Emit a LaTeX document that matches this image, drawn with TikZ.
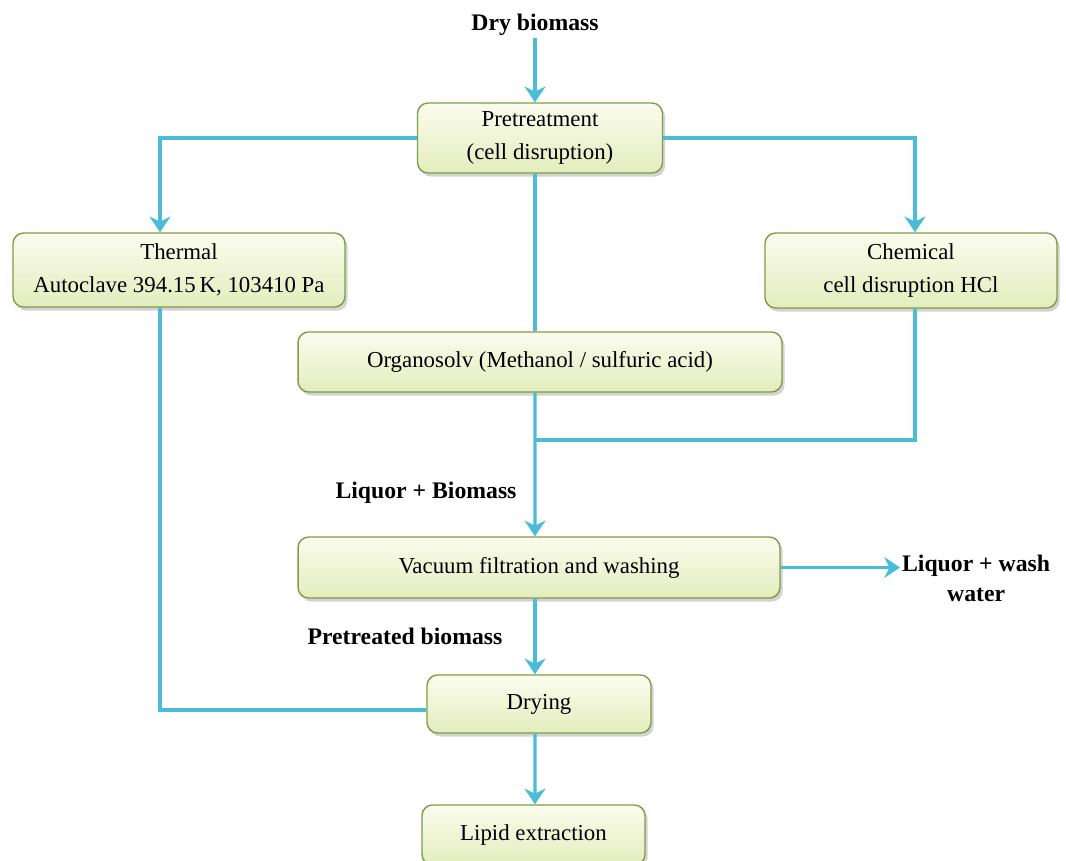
\documentclass[tikz,border=0pt]{standalone}
\usepackage{fontspec}
\setmainfont{Liberation Serif}
\usetikzlibrary{arrows.meta,shadows}
\definecolor{flow}{HTML}{4BBCD8}
\definecolor{boxborder}{HTML}{7C9F45}
\definecolor{boxtop}{HTML}{FBFCEE}
\definecolor{boxbot}{HTML}{E3EDBD}
\begin{document}
\begin{tikzpicture}[x=0.02cm,y=-0.02cm,
  procbox/.style={draw=boxborder, line width=0.8pt, rounded corners=6pt,
    top color=boxtop, bottom color=boxbot,
    drop shadow={opacity=0.35, shadow xshift=1.5pt, shadow yshift=-2pt},
    align=center, inner sep=0pt, font=\fontsize{13}{18.5}\selectfont},
  lbl/.style={font=\bfseries\fontsize{13.5}{17}\selectfont, align=center, inner sep=1pt},
  flowline/.style={draw=flow, line width=1.8pt},
  flowarrow/.style={flowline, -{Stealth[length=9pt,width=12pt,inset=3pt]}}]
\useasboundingbox (0,0) rectangle (1066,861);

\node[lbl] (drybio) at (535,25) {Dry biomass};
\node[procbox, minimum width=4.9cm, minimum height=1.4cm] (pre) at (540,138) {Pretreatment\\(cell disruption)};
\node[procbox, minimum width=6.64cm, minimum height=1.48cm] (thermal) at (179,270) {Thermal\\Autoclave 394.15\,K, 103410 Pa};
\node[procbox, minimum width=5.84cm, minimum height=1.5cm] (chem) at (911,270.5) {Chemical\\cell disruption HCl};
\node[procbox, minimum width=9.68cm, minimum height=1.2cm] (org) at (540,362) {Organosolv (Methanol / sulfuric acid)};
\node[procbox, minimum width=9.64cm, minimum height=1.22cm] (vac) at (539,567.5) {Vacuum filtration and washing};
\node[procbox, minimum width=4.48cm, minimum height=1.16cm] (drying) at (539,704) {Drying};
\node[procbox, minimum width=4.46cm, minimum height=1.2cm] (lipid) at (533.5,835) {Lipid extraction};

\node[lbl] (lqbio) at (426,493) {Liquor + Biomass};
\node[lbl] (ptbio) at (405,636) {Pretreated biomass};
\node[lbl, anchor=west] (lqwash) at (900,578) {Liquor + wash\\water};

\coordinate (join) at (535,440);

\draw[flowarrow] (drybio.south) -- (drybio.south |- pre.north);
\draw[flowarrow] (pre.west) -| ([xshift=-0.38cm]thermal.north);
\draw[flowarrow] (pre.east) -| ([xshift=0.08cm]chem.north);
\draw[flowline] ([xshift=-0.1cm]pre.south) -- ([xshift=-0.1cm]org.north);
\draw[flowarrow] ([xshift=-0.1cm]org.south) -- ([xshift=-0.08cm]vac.north);
\draw[flowline] ([xshift=0.08cm]chem.south) |- (join);
\draw[flowarrow] (vac.east) -- (vac.east -| lqwash.west);
\draw[flowarrow] ([xshift=-0.08cm]vac.south) -- ([xshift=-0.08cm]drying.north);
\draw[flowline] ([xshift=-0.38cm]thermal.south) |- ([yshift=-0.12cm]drying.west);
\draw[flowarrow] ([xshift=-0.08cm]drying.south) -- ([xshift=0.03cm]lipid.north);
\end{tikzpicture}
\end{document}
